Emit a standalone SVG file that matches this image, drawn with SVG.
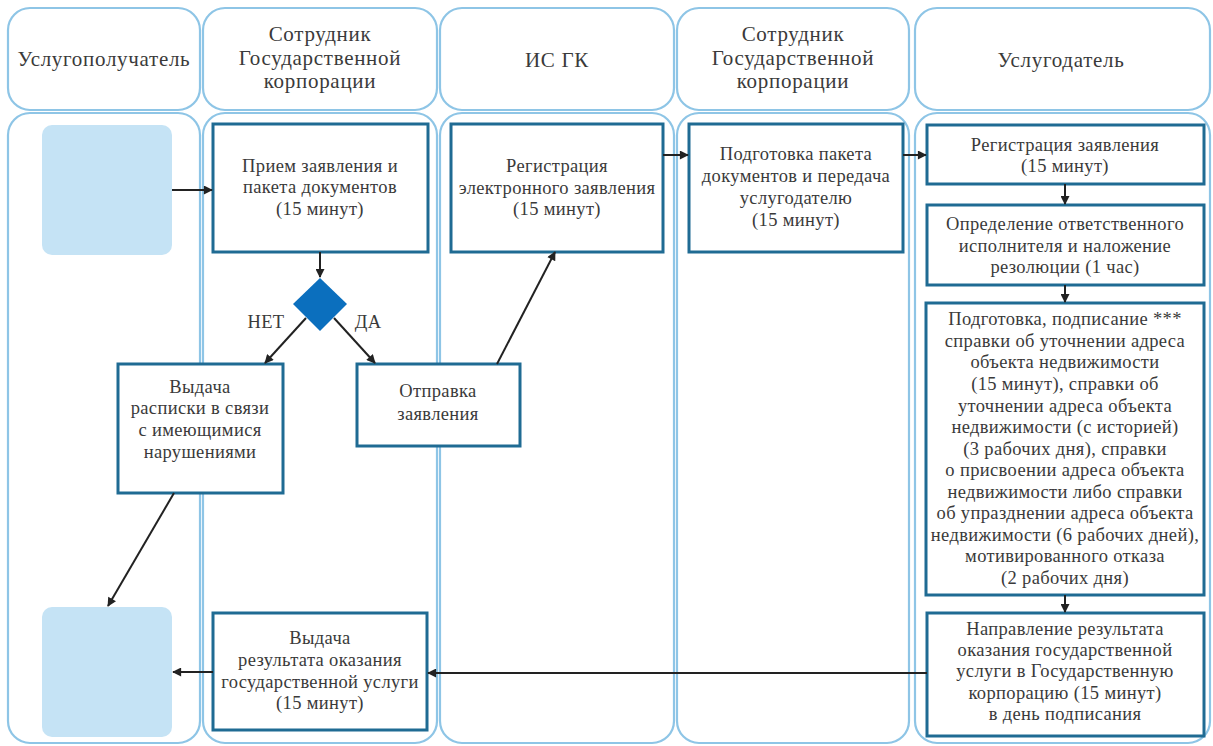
<svg xmlns="http://www.w3.org/2000/svg" width="1213" height="746" viewBox="0 0 1213 746">
<defs>
<style>
.lane{fill:#fff;stroke:#8ec5e6;stroke-width:2.2}
.node{fill:#fff;stroke:#1f6b93;stroke-width:3}
.term{fill:#c5e3f5;stroke:none}
.dec{fill:#0b6fbe;stroke:none}
text{font-family:"Liberation Serif","Times New Roman",serif;fill:#3a3a3a;text-anchor:middle}
.hd{font-size:21px;letter-spacing:0.7px}
.tx{font-size:18.5px;letter-spacing:0.35px}
.edge{stroke:#222;stroke-width:2;fill:none;marker-end:url(#ah)}
</style>
<marker id="ah" viewBox="0 0 10 10" refX="9" refY="5" markerWidth="10" markerHeight="9" orient="auto" markerUnits="userSpaceOnUse">
<path d="M0,0 L10,5 L0,10 z" fill="#222"/>
</marker>
</defs>
<rect width="1213" height="746" fill="#fff"/>
<g id="lanes">
<rect class="lane" x="8" y="8" width="192" height="102" rx="22"/>
<rect class="lane" x="203" y="8" width="234" height="102" rx="22"/>
<rect class="lane" x="440" y="8" width="234" height="102" rx="22"/>
<rect class="lane" x="677" y="8" width="232" height="102" rx="22"/>
<rect class="lane" x="915" y="8" width="295" height="102" rx="22"/>
<rect class="lane" x="8" y="113" width="192" height="630" rx="22"/>
<rect class="lane" x="203" y="113" width="234" height="630" rx="22"/>
<rect class="lane" x="440" y="113" width="234" height="630" rx="22"/>
<rect class="lane" x="677" y="113" width="232" height="630" rx="22"/>
<rect class="lane" x="915" y="113" width="295" height="630" rx="22"/>
<text class="hd" x="104" y="66">Услугополучатель</text>
<text class="hd" x="320" y="41">Сотрудник</text>
<text class="hd" x="320" y="65">Государственной</text>
<text class="hd" x="320" y="88">корпорации</text>
<text class="hd" x="557" y="67">ИС ГК</text>
<text class="hd" x="793" y="41">Сотрудник</text>
<text class="hd" x="793" y="65">Государственной</text>
<text class="hd" x="793" y="88">корпорации</text>
<text class="hd" x="1061" y="67">Услугодатель</text>
</g>
<g id="start"><rect class="term" x="42" y="125" width="130" height="130" rx="10"/></g>
<g id="end"><rect class="term" x="42" y="607" width="130" height="130" rx="10"/></g>
<g id="n1">
<rect class="node" x="213" y="124" width="215" height="128"/>
<text class="tx" x="320" y="172">Прием заявления и</text>
<text class="tx" x="320" y="193">пакета документов</text>
<text class="tx" x="320" y="215">(15 минут)</text>
</g>
<g id="d1"><path class="dec" d="M320,278 L347,304 L320,331 L293,304 z"/></g>
<g id="n2">
<rect class="node" x="118" y="364" width="165" height="129"/>
<text class="tx" x="200" y="393">Выдача</text>
<text class="tx" x="200" y="414">расписки в связи</text>
<text class="tx" x="200" y="436">с имеющимися</text>
<text class="tx" x="200" y="458">нарушениями</text>
</g>
<g id="n3">
<rect class="node" x="357" y="364" width="163" height="82"/>
<text class="tx" x="438" y="397">Отправка</text>
<text class="tx" x="438" y="420">заявления</text>
</g>
<g id="n4">
<rect class="node" x="451" y="124" width="212" height="128"/>
<text class="tx" x="557" y="172">Регистрация</text>
<text class="tx" x="557" y="194">электронного заявления</text>
<text class="tx" x="557" y="215">(15 минут)</text>
</g>
<g id="n5">
<rect class="node" x="689" y="124" width="214" height="128"/>
<text class="tx" x="796" y="160">Подготовка пакета</text>
<text class="tx" x="796" y="182">документов и передача</text>
<text class="tx" x="796" y="204">услугодателю</text>
<text class="tx" x="796" y="226">(15 минут)</text>
</g>
<g id="n6">
<rect class="node" x="927" y="125" width="277" height="59"/>
<text class="tx" x="1065" y="151">Регистрация заявления</text>
<text class="tx" x="1065" y="172">(15 минут)</text>
</g>
<g id="n7">
<rect class="node" x="927" y="205" width="277" height="80"/>
<text class="tx" x="1065" y="230">Определение ответственного</text>
<text class="tx" x="1065" y="252">исполнителя и наложение</text>
<text class="tx" x="1065" y="273">резолюции (1 час)</text>
</g>
<g id="n8">
<rect class="node" x="926" y="303" width="278" height="292"/>
<text class="tx" x="1065" y="325">Подготовка, подписание ***</text>
<text class="tx" x="1065" y="347">справки об уточнении адреса</text>
<text class="tx" x="1065" y="368">объекта недвижимости</text>
<text class="tx" x="1065" y="390">(15 минут), справки об</text>
<text class="tx" x="1065" y="412">уточнении адреса объекта</text>
<text class="tx" x="1065" y="433">недвижимости (с историей)</text>
<text class="tx" x="1065" y="455">(3 рабочих дня), справки</text>
<text class="tx" x="1065" y="476">о присвоении адреса объекта</text>
<text class="tx" x="1065" y="498">недвижимости либо справки</text>
<text class="tx" x="1065" y="519">об упразднении адреса объекта</text>
<text class="tx" x="1065" y="541">недвижимости (6 рабочих дней),</text>
<text class="tx" x="1065" y="562">мотивированного отказа</text>
<text class="tx" x="1065" y="584">(2 рабочих дня)</text>
</g>
<g id="n9">
<rect class="node" x="927" y="613" width="277" height="123"/>
<text class="tx" x="1065" y="635">Направление результата</text>
<text class="tx" x="1065" y="656">оказания государственной</text>
<text class="tx" x="1065" y="677">услуги в Государственную</text>
<text class="tx" x="1065" y="699">корпорацию (15 минут)</text>
<text class="tx" x="1065" y="720">в день подписания</text>
</g>
<g id="n10">
<rect class="node" x="213" y="613" width="214" height="117"/>
<text class="tx" x="320" y="644">Выдача</text>
<text class="tx" x="320" y="666">результата оказания</text>
<text class="tx" x="320" y="688">государственной услуги</text>
<text class="tx" x="320" y="709">(15 минут)</text>
</g>
<g id="connectors">
<line class="edge" x1="172" y1="190" x2="212" y2="190"/>
<line class="edge" x1="320" y1="252" x2="320" y2="277"/>
<line class="edge" x1="306" y1="318" x2="265" y2="363"/>
<line class="edge" x1="334" y1="318" x2="375" y2="363"/>
<line class="edge" x1="497" y1="364" x2="555" y2="252"/>
<line class="edge" x1="663" y1="155" x2="688" y2="155"/>
<line class="edge" x1="903" y1="155" x2="926" y2="155"/>
<line class="edge" x1="1065" y1="184" x2="1065" y2="204"/>
<line class="edge" x1="1065" y1="285" x2="1065" y2="302"/>
<line class="edge" x1="1065" y1="595" x2="1065" y2="612"/>
<line class="edge" x1="927" y1="673" x2="428" y2="673"/>
<line class="edge" x1="213" y1="672" x2="173" y2="672"/>
<line class="edge" x1="174" y1="493" x2="108" y2="606"/>
<text class="tx" x="266" y="328">НЕТ</text>
<text class="tx" x="368" y="328">ДА</text>
</g>
</svg>
